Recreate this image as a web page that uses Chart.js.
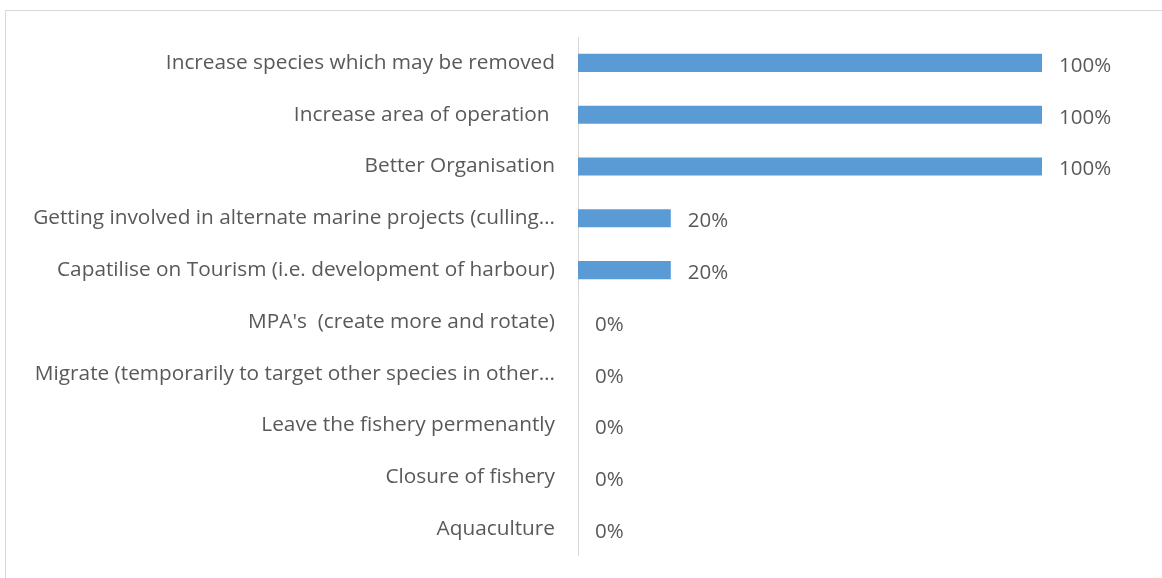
<!DOCTYPE html>
<html>
<head>
<meta charset="utf-8">
<script src="https://cdn.jsdelivr.net/npm/chart.js@4.4.1/dist/chart.umd.min.js"></script>
<style>
  html, body { margin: 0; padding: 0; background: #ffffff; overflow: hidden; }
  .frame {
    position: absolute;
    left: 5px;
    top: 10px;
    width: 1180px;
    height: 600px;
    border: 1px solid #d9d9d9;
  }
  .wrap { position: absolute; left: 0; top: 0; width: 1162px; height: 578px; }
</style>
</head>
<body>
<div class="frame"></div>
<div class="wrap"><canvas id="adaptChart"></canvas></div>
<script>
const categories = [
  'Increase species which may be removed',
  'Increase area of operation ',
  'Better Organisation',
  'Getting involved in alternate marine projects (culling\u2026',
  'Capatilise on Tourism (i.e. development of harbour)',
  "MPA's  (create more and rotate)",
  'Migrate (temporarily to target other species in other\u2026',
  'Leave the fishery permenantly',
  'Closure of fishery',
  'Aquaculture'
];

const percentages = [100, 100, 100, 20, 20, 0, 0, 0, 0, 0];

const textColor = '#595959';
const fontFamily = '"Open Sans", sans-serif';

// draws "NN%" just past the end of each bar
const valueLabels = {
  id: 'valueLabels',
  afterDatasetsDraw(chart) {
    const ctx = chart.ctx;
    const meta = chart.getDatasetMeta(0);
    ctx.save();
    ctx.fillStyle = textColor;
    ctx.font = '20.5px ' + fontFamily;
    ctx.textAlign = 'left';
    ctx.textBaseline = 'middle';
    meta.data.forEach((bar, i) => {
      ctx.fillText(percentages[i] + '%', bar.x + 17, bar.y + 3);
    });
    ctx.restore();
  }
};

new Chart(document.getElementById('adaptChart'), {
  type: 'bar',
  data: {
    labels: categories,
    datasets: [{
      data: percentages,
      backgroundColor: '#5b9bd5',
      barPercentage: 0.7,
      categoryPercentage: 0.5
    }]
  },
  plugins: [valueLabels],
  options: {
    indexAxis: 'y',
    responsive: true,
    maintainAspectRatio: false,
    animation: false,
    layout: {
      padding: { top: 37, bottom: 23, right: 120, left: 0 }
    },
    plugins: {
      legend: { display: false },
      tooltip: { enabled: false }
    },
    scales: {
      x: {
        display: false,
        min: 0,
        max: 100
      },
      y: {
        afterFit: function(scale) {
          scale.width = 578;
          scale.paddingTop = 0;
          scale.paddingBottom = 0;
        },
        grid: { display: false },
        border: { color: '#d9d9d9', width: 1 },
        ticks: {
          color: textColor,
          padding: 15,
          autoSkip: false,
          font: { family: fontFamily, size: 20.8 }
        }
      }
    }
  }
});
</script>
</body>
</html>
